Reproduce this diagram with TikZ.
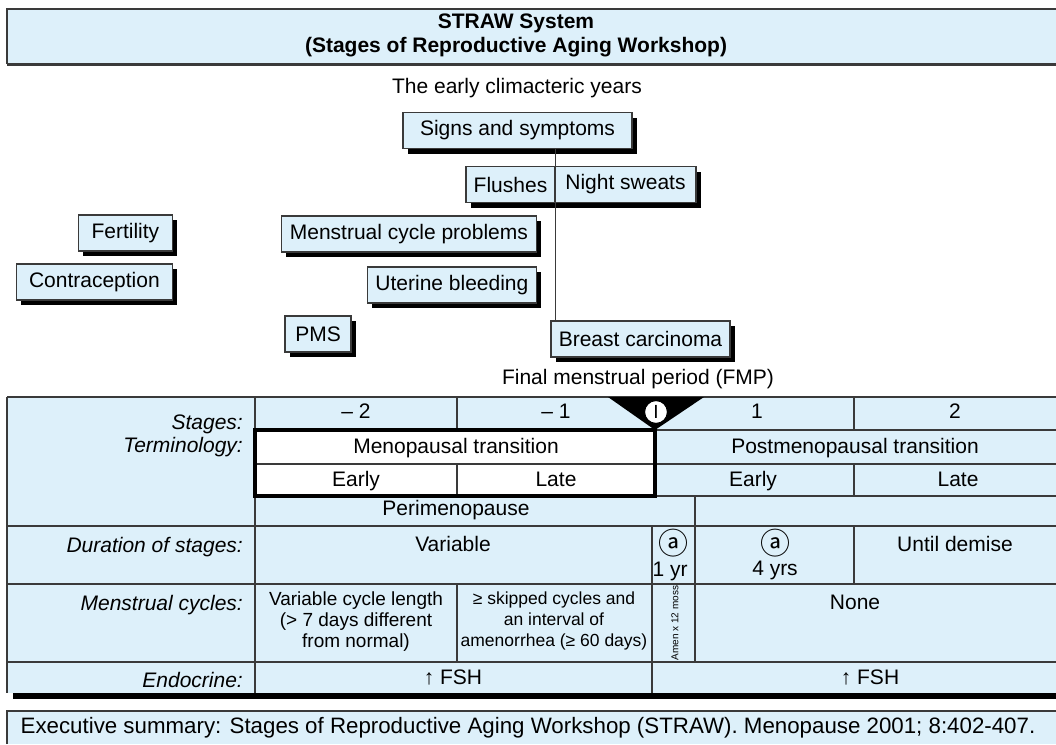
\documentclass[tikz,border=0pt]{standalone}
\usepackage{fontspec}
\setmainfont{Liberation Sans}
\newfontfamily\circfont{Noto Sans CJK JP}
\usetikzlibrary{positioning,shadows}
\definecolor{paleblue}{HTML}{DDF0FA}
\definecolor{edgegray}{HTML}{3A3A3A}

\begin{document}
\begin{tikzpicture}[
    x=1pt, y=-1pt,
    symptom/.style={draw=edgegray, line width=1.2pt, fill=paleblue,
        minimum height=36pt, inner sep=0pt, font=\fontsize{21}{24}\selectfont,
        drop shadow={shadow xshift=5pt, shadow yshift=-5pt, fill=black, opacity=1}},
    rule/.style={draw=edgegray, line width=1.1pt},
    cell/.style={font=\fontsize{21}{24}\selectfont, inner sep=0pt, text height=15pt, text depth=4pt},
    circcell/.style={font=\circfont\fontsize{30}{32}\selectfont, inner sep=0pt},
    smallcell/.style={font=\fontsize{19}{21}\selectfont, align=center, inner sep=0pt},
    rowname/.style={font=\fontsize{21}{23}\selectfont\itshape, anchor=east, inner sep=0pt, align=right}
    ]
    \useasboundingbox (0,0) rectangle (1056,744);

    % title bar
    \fill[paleblue] (7,9) rectangle (1056,64);
    \draw[rule] (1056,9) -- (7,9) -- (7,64);
    \draw[line width=3pt, edgegray] (7,64) -- (1056,64);
    \node[font=\bfseries\fontsize{21}{24}\selectfont, align=center] (title) at (516,35)
        {STRAW System\\(Stages of Reproductive Aging Workshop)};
    \node[cell] (climacteric) at (517,88) {The early climacteric years};

    % signs and symptoms
    \node[symptom, minimum width=229pt] (signs) at (517.5,130.5) {Signs and symptoms};
    \node[symptom, minimum width=89pt] (flushes) at (510.5,184.5) {Flushes};
    \node[symptom, minimum width=141pt, right=-1.2pt of flushes] (sweats) {Night sweats};
    \node[symptom, minimum width=94pt, anchor=east] (fertility) at (173,233) {Fertility};
    \node[symptom, minimum width=156pt, anchor=east] (contraception) at (173,282) {Contraception};
    \node[symptom, minimum width=255pt, anchor=east] (cycle) at (537,234) {Menstrual cycle problems};
    \node[symptom, minimum width=169pt, anchor=east] (bleeding) at (537,285) {Uterine bleeding};
    \node[symptom, minimum width=66pt] (pms) at (318,334) {PMS};
    \node[symptom, minimum width=179pt] (breast) at (640.5,339) {Breast carcinoma};
    \draw[edgegray, line width=1.2pt] (signs.south -| flushes.east) -- (breast.north -| flushes.east);
    \node[cell] (fmplabel) at (638,379) {Final menstrual period (FMP)};

    % table
    \fill[paleblue] (7,397) rectangle (1056,693);
    \fill[white] (255,430) rectangle (655,496);
    \draw[rule] (7,397) -- (1056,397);
    \draw[rule] (255,430) -- (1056,430) (255,464) -- (1056,464) (255,496) -- (1056,496);
    \foreach \y in {526,584,662}
        \draw[rule] (7,\y) -- (1056,\y);
    \draw[rule] (7,397) -- (7,693) (255,397) -- (255,693);
    \draw[rule] (457,397) -- (457,430) (457,464) -- (457,496) (457,584) -- (457,662);
    \draw[rule] (854,397) -- (854,430) (854,464) -- (854,496) (854,526) -- (854,584);
    \draw[rule] (695,496) -- (695,662);
    \draw[rule] (652,526) -- (652,693);
    \draw[line width=4pt] (255,430) rectangle (655,496);
    \fill[black] (13,693) rectangle (1056,699);
    \fill (608,397) -- (704,397) -- (655,430) -- cycle;
    \node[circle, draw, fill=white, line width=1.2pt, minimum size=23pt, inner sep=0pt,
        font=\fontsize{19}{21}\selectfont] (fmp) at (656,412) {I};

    \node[rowname] (stages) at (243,436) {Stages:\\Terminology:};
    \node[rowname] (duration) at (243,547) {Duration of stages:};
    \node[rowname] (cycles) at (243,605) {Menstrual cycles:};
    \node[rowname] (endocrine) at (243,680) {Endocrine:};

    \node[cell] (minustwo) at (356,413) {– 2};
    \node[cell] (minusone) at (556,413) {– 1};
    \node[cell] (plusone) at (757,413) {1};
    \node[cell] (plustwo) at (955,413) {2};
    \node[cell] (meno) at (456,448) {Menopausal transition};
    \node[cell] (postmeno) at (855,448) {Postmenopausal transition};
    \node[cell] (earlyone) at (356,481) {Early};
    \node[cell] (lateone) at (556,481) {Late};
    \node[cell] (earlytwo) at (753,481) {Early};
    \node[cell] (latetwo) at (958,481) {Late};
    \node[cell] (peri) at (456,510) {Perimenopause};
    \node[cell] (variable) at (453,546) {Variable};
    \node[circcell] (acirc) at (673,543) {ⓐ};
    \node[cell] (oneyr) at (670,571) {1 yr};
    \node[circcell] (bcirc) at (775,543) {ⓐ};
    \node[cell] (fouryrs) at (775,570) {4 yrs};
    \node[cell] (demise) at (955,546) {Until demise};
    \node[smallcell] (varlen) at (356,622) {Variable cycle length\\(> 7 days different\\from normal)};
    \node[smallcell, font=\fontsize{17.5}{21}\selectfont] (skipped) at (554,621)
        {≥ skipped cycles and\\an interval of\\amenorrhea (≥ 60 days)};
    \node[font=\fontsize{10}{12}\selectfont, rotate=90, inner sep=0pt] (amen) at (675,623) {Amen x 12 moss};
    \node[cell] (none) at (855,604) {None};
    \node[cell] (fshone) at (453,679) {↑ FSH};
    \node[cell] (fshtwo) at (870,679) {↑ FSH};

    % footer
    \fill[paleblue] (7,711) rectangle (1056,744);
    \draw[rule] (7,744) -- (7,711) -- (1056,711);
    \node[cell, font=\fontsize{22.3}{25}\selectfont] (summary) at (528,728)
        {Executive summary: Stages of Reproductive Aging Workshop (STRAW). Menopause 2001; 8:402-407.};
\end{tikzpicture}
\end{document}
